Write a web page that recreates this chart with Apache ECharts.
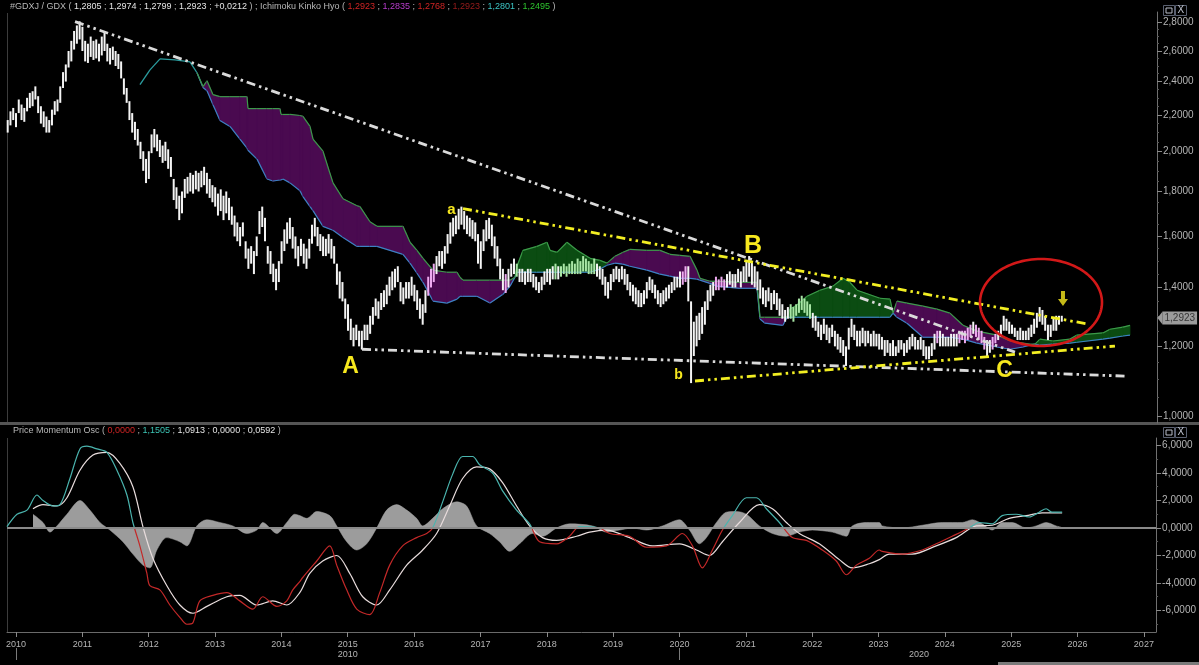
<!DOCTYPE html>
<html><head><meta charset="utf-8">
<script src="https://cdn.jsdelivr.net/npm/echarts@6/dist/echarts.min.js"></script>
<style>html,body{margin:0;padding:0;background:#000;}#c{width:1199px;height:665px;}</style>
</head><body><div id="c"></div>
<script>
// ---------------- DATA ----------------
const yearTicks = [2010,2011,2012,2013,2014,2015,2016,2017,2018,2019,2020,2021,2022,2023,2024,2025,2026,2027];
const decadeLabels = ['2010','2020'];
const decadeLabelAt = [2015.0, 2023.61];
const decadeStarts = [2010, 2020];
const priceTicks = [1.0,1.2,1.4,1.6,1.8,2.0,2.2,2.4,2.6,2.8];
const priceMinorTicks = [1.05,1.1,1.15,1.25,1.3,1.35,1.45,1.5,1.55,1.65,1.7,1.75,1.85,1.9,1.95,2.05,2.1,2.15,2.25,2.3,2.35,2.45,2.5,2.55,2.65,2.7,2.75];
const oscTicks = [-6,-4,-2,0,2,4,6];
const oscMinorTicks = [-7,-5,-3,-1,1,3,5];

// semi-monthly bars, first bar mid-Nov 2009
const barStart = 2009.875;
const barStep = 1/24;
const barHigh = [
 2.17,2.22,2.24,
 2.21,2.29,2.26,2.24,2.30,2.33,2.34,2.37,2.31,2.25,2.22,2.19,2.17,2.23,2.28,2.29,2.37,2.46,2.51,2.60,2.67,2.74,2.78,2.81,
 2.77,2.67,2.65,2.70,2.67,2.68,2.65,2.70,2.73,2.65,2.62,2.63,2.60,2.58,2.53,2.42,2.36,2.28,2.21,2.16,2.12,2.05,2.00,1.96,
 2.00,2.09,2.12,2.09,2.06,2.03,2.05,2.01,1.97,1.86,1.82,1.78,1.80,1.86,1.87,1.89,1.88,1.90,1.89,1.90,1.92,1.89,1.86,1.83,
 1.82,1.79,1.81,1.78,1.80,1.77,1.73,1.69,1.66,1.64,1.66,1.58,1.55,1.56,1.54,1.60,1.71,1.73,1.68,1.56,1.54,1.49,1.47,1.50,
 1.58,1.63,1.66,1.68,1.64,1.60,1.56,1.59,1.57,1.55,1.59,1.65,1.68,1.64,1.61,1.60,1.59,1.61,1.59,1.56,1.49,1.46,1.42,1.36,
 1.34,1.29,1.26,1.27,1.25,1.25,1.27,1.27,1.30,1.33,1.36,1.35,1.38,1.39,1.41,1.44,1.46,1.47,1.48,1.42,1.40,1.42,1.42,1.44,
 1.41,1.39,1.36,1.34,1.39,1.44,1.47,1.49,1.52,1.54,1.54,1.56,1.61,1.66,1.68,1.69,1.72,1.73,1.71,1.69,1.68,1.67,1.66,1.61,
 1.58,1.63,1.67,1.68,1.65,1.60,1.56,1.51,1.47,1.45,1.47,1.49,1.51,1.49,1.47,1.47,1.46,1.47,1.47,1.45,1.44,1.42,1.44,1.46,
 1.47,1.47,1.48,1.49,1.48,1.48,1.49,1.48,1.49,1.50,1.49,1.51,1.50,1.52,1.51,1.50,1.49,1.51,1.49,1.48,1.47,1.44,1.42,1.45,
 1.47,1.48,1.47,1.48,1.47,1.45,1.42,1.41,1.40,1.39,1.38,1.39,1.42,1.44,1.43,1.41,1.39,1.38,1.39,1.40,1.41,1.42,1.44,1.44,
 1.46,1.46,1.48,1.48,1.35,1.28,1.30,1.31,1.33,1.35,1.39,1.41,1.42,1.44,1.43,1.44,1.43,1.45,1.46,1.45,1.45,1.47,1.46,1.48,
 1.50,1.52,1.50,1.48,1.46,1.43,1.40,1.39,1.40,1.38,1.39,1.38,1.36,1.34,1.32,1.33,1.34,1.33,1.34,1.36,1.37,1.36,1.35,1.34,
 1.31,1.30,1.28,1.27,1.29,1.27,1.26,1.27,1.25,1.24,1.23,1.22,1.20,1.26,1.29,1.27,1.25,1.25,1.26,1.25,1.25,1.24,1.25,1.24,
 1.24,1.23,1.22,1.22,1.21,1.22,1.20,1.22,1.22,1.21,1.22,1.23,1.24,1.23,1.22,1.23,1.22,1.20,1.20,1.21,1.24,1.25,1.25,1.24,
 1.23,1.23,1.24,1.24,1.24,1.25,1.25,1.25,1.26,1.27,1.28,1.27,1.26,1.25,1.23,1.22,1.22,1.23,1.24,1.25,1.27,1.30,1.29,1.28,
 1.27,1.26,1.25,1.26,1.25,1.25,1.26,1.27,1.29,1.31,1.33,1.32,1.30,1.27,1.27,1.29,1.30,1.30,1.30
];
const barLow = [
 2.10,2.14,2.17,
 2.13,2.21,2.17,2.16,2.22,2.24,2.25,2.29,2.21,2.15,2.13,2.10,2.10,2.14,2.20,2.22,2.27,2.36,2.40,2.49,2.53,2.61,2.65,2.68,
 2.60,2.53,2.52,2.56,2.54,2.55,2.53,2.57,2.60,2.53,2.51,2.54,2.50,2.48,2.42,2.32,2.27,2.17,2.10,2.06,2.03,1.96,1.90,1.84,
 1.86,1.99,2.02,2.00,1.97,1.94,1.95,1.91,1.87,1.76,1.72,1.67,1.70,1.77,1.79,1.80,1.79,1.81,1.80,1.82,1.83,1.79,1.77,1.75,
 1.73,1.69,1.71,1.67,1.70,1.67,1.65,1.60,1.58,1.56,1.60,1.51,1.47,1.49,1.45,1.52,1.61,1.64,1.58,1.49,1.45,1.42,1.39,1.42,
 1.49,1.54,1.57,1.59,1.55,1.51,1.48,1.52,1.49,1.47,1.51,1.57,1.60,1.56,1.54,1.52,1.52,1.53,1.51,1.49,1.41,1.36,1.35,1.29,
 1.25,1.22,1.20,1.22,1.20,1.19,1.22,1.22,1.24,1.27,1.30,1.29,1.32,1.33,1.34,1.37,1.39,1.40,1.42,1.35,1.34,1.36,1.36,1.37,
 1.35,1.32,1.29,1.27,1.31,1.37,1.40,1.42,1.45,1.48,1.47,1.49,1.53,1.57,1.60,1.61,1.63,1.65,1.63,1.61,1.60,1.59,1.58,1.49,
 1.47,1.54,1.58,1.59,1.56,1.51,1.48,1.43,1.39,1.38,1.40,1.44,1.45,1.44,1.42,1.42,1.41,1.42,1.42,1.40,1.39,1.38,1.39,1.41,
 1.42,1.41,1.43,1.43,1.43,1.44,1.45,1.44,1.45,1.45,1.45,1.45,1.45,1.46,1.46,1.45,1.45,1.45,1.44,1.43,1.41,1.37,1.36,1.39,
 1.42,1.43,1.42,1.43,1.41,1.39,1.37,1.35,1.34,1.33,1.33,1.34,1.36,1.39,1.38,1.36,1.34,1.33,1.34,1.35,1.36,1.38,1.39,1.40,
 1.40,1.41,1.42,1.35,1.09,1.17,1.20,1.22,1.24,1.27,1.32,1.35,1.37,1.39,1.39,1.40,1.39,1.40,1.41,1.40,1.40,1.42,1.40,1.42,
 1.42,1.44,1.41,1.40,1.39,1.36,1.34,1.33,1.35,1.32,1.34,1.32,1.30,1.29,1.28,1.29,1.29,1.28,1.30,1.31,1.32,1.31,1.30,1.29,
 1.26,1.25,1.23,1.22,1.24,1.22,1.21,1.23,1.20,1.19,1.18,1.17,1.14,1.19,1.23,1.22,1.20,1.20,1.21,1.20,1.21,1.20,1.20,1.20,
 1.19,1.19,1.17,1.18,1.17,1.17,1.17,1.18,1.19,1.17,1.18,1.19,1.20,1.19,1.19,1.19,1.17,1.16,1.16,1.17,1.19,1.21,1.20,1.20,
 1.20,1.20,1.20,1.20,1.20,1.21,1.22,1.21,1.22,1.23,1.24,1.23,1.22,1.21,1.19,1.17,1.18,1.19,1.21,1.22,1.23,1.25,1.25,1.24,
 1.24,1.23,1.22,1.22,1.22,1.22,1.22,1.23,1.24,1.26,1.28,1.27,1.25,1.22,1.23,1.25,1.25,1.27,1.28
];
const lastClose = 1.2923;

// Ichimoku cloud: [time, senkouA, senkouB]
const cloud = [
 [2011.867,2.381,2.381],[2012.018,2.475,2.475],[2012.169,2.547,2.547],[2012.395,2.540,2.540],[2012.620,2.527,2.527],
 [2012.726,2.456,2.456],[2012.816,2.363,2.369],[2012.877,2.343,2.405],[2012.967,2.259,2.319],[2013.072,2.168,2.307],
 [2013.223,2.134,2.307],[2013.373,2.064,2.307],[2013.479,2.016,2.307],[2013.494,2.005,2.236],[2013.630,1.959,2.236],
 [2013.780,1.860,2.236],[2013.870,1.850,2.236],[2013.976,1.855,2.236],[2013.991,1.855,2.202],[2014.021,1.860,2.202],
 [2014.127,1.841,2.202],[2014.277,1.803,2.196],[2014.322,1.776,2.191],[2014.428,1.730,2.134],[2014.473,1.712,2.064],
 [2014.623,1.643,2.000],[2014.774,1.626,1.841],[2014.925,1.596,1.766],[2015.136,1.559,1.734],[2015.181,1.559,1.730],
 [2015.331,1.559,1.663],[2015.437,1.559,1.643],[2015.828,1.527,1.643],[2015.934,1.492,1.576],[2016.039,1.453,1.543],
 [2016.130,1.419,1.511],[2016.280,1.351,1.465],[2016.491,1.344,1.457],[2016.642,1.358,1.457],[2016.687,1.368,1.438],
 [2016.732,1.368,1.427],[2016.943,1.368,1.427],[2017.139,1.344,1.427],[2017.334,1.375,1.427],[2017.440,1.405,1.427],
 [2017.515,1.438,1.438],
 [2017.545,1.480,1.457],[2017.636,1.543,1.457],[2017.846,1.559,1.457],[2017.997,1.576,1.457],[2018.042,1.543,1.457],
 [2018.148,1.535,1.457],[2018.298,1.576,1.457],[2018.449,1.543,1.457],[2018.645,1.511,1.457],[2018.795,1.503,1.469],
 [2018.901,1.492,1.484],
 [2019.021,1.492,1.519],[2019.142,1.488,1.535],[2019.247,1.480,1.547],[2019.503,1.465,1.543],[2019.699,1.450,1.543],
 [2019.849,1.442,1.527],[2020.000,1.434,1.523],[2020.151,1.434,1.519],[2020.256,1.431,1.465],[2020.301,1.427,1.434],
 [2020.452,1.415,1.423],[2020.557,1.405,1.423],[2020.904,1.397,1.419],[2021.160,1.397,1.419],[2021.205,1.289,1.295],
 [2021.280,1.275,1.295],[2021.551,1.268,1.295],[2021.611,1.295,1.295],
 [2021.657,1.323,1.295],[2021.762,1.337,1.295],[2021.913,1.368,1.295],[2022.108,1.390,1.295],[2022.304,1.405,1.295],
 [2022.455,1.434,1.295],[2022.560,1.419,1.295],[2022.666,1.390,1.295],[2023.012,1.361,1.295],[2023.163,1.358,1.295],
 [2023.208,1.309,1.309],
 [2023.268,1.295,1.351],[2023.419,1.275,1.344],[2023.660,1.229,1.333],[2023.870,1.229,1.323],[2024.066,1.229,1.309],
 [2024.262,1.223,1.268],[2024.473,1.210,1.249],[2024.774,1.198,1.236],[2024.970,1.191,1.217],[2025.166,1.198,1.210],
 [2025.271,1.204,1.207],[2025.346,1.207,1.207],
 [2025.422,1.223,1.204],[2025.617,1.217,1.207],[2025.873,1.223,1.210],[2025.979,1.236,1.213],[2026.370,1.243,1.223],
 [2026.476,1.255,1.226],[2026.672,1.262,1.233],[2026.777,1.268,1.236]
];

// trend lines: [time, price]
const trendWhiteUpper = [[2010.889,2.808],[2025.045,1.182]];
const trendWhiteLower = [[2015.211,1.191],[2026.732,1.110]];
const trendYellowUpper = [[2016.732,1.721],[2026.145,1.272]];
const trendYellowLower = [[2020.226,1.096],[2026.551,1.201]];

// annotations: [label, time, price]
const noteLabels = [['A',2015.038,1.138],['a',2016.559,1.715],['B',2021.099,1.561],['b',2019.977,1.113],['C',2024.887,1.125]];
const arrowAt = [2025.768,1.360];
const circleAt = [2025.437,1.346];

// Price Momentum Oscillator
const momentum = [
 [2009.864,0.1],[2010.015,1.0],[2010.166,1.3],[2010.316,2.4],[2010.407,2.0],[2010.557,1.6],[2010.663,1.7],[2010.813,3.6],
 [2010.964,5.75],[2011.069,5.95],[2011.220,5.75],[2011.370,5.5],[2011.521,4.2],[2011.672,2.4],[2011.762,0.4],[2011.867,-1.3],
 [2011.973,-3.3],[2012.018,-4.2],[2012.169,-4.5],[2012.319,-5.6],[2012.470,-6.5],[2012.575,-7.0],[2012.666,-6.9],[2012.771,-5.3],
 [2012.967,-4.9],[2013.178,-4.7],[2013.373,-5.3],[2013.569,-5.9],[2013.720,-5.0],[2013.931,-5.7],[2014.081,-5.3],[2014.172,-4.5],
 [2014.277,-3.9],[2014.322,-3.6],[2014.533,-2.4],[2014.729,-1.3],[2014.834,-2.7],[2014.985,-4.5],[2015.136,-5.9],[2015.331,-6.3],
 [2015.482,-4.7],[2015.633,-2.7],[2015.828,-1.3],[2016.039,-0.7],[2016.190,-0.4],[2016.280,0.0],[2016.431,1.9],[2016.581,3.9],
 [2016.732,5.2],[2016.883,5.2],[2016.988,4.6],[2017.184,4.0],[2017.334,2.7],[2017.545,1.3],[2017.741,0.3],[2017.892,-1.0],
 [2018.148,-1.15],[2018.343,-0.6],[2018.494,0.1],[2018.795,0.0],[2018.946,-0.4],[2019.247,-0.6],[2019.503,-1.4],[2019.804,-1.3],
 [2020.045,-0.4],[2020.196,-1.3],[2020.346,-2.9],[2020.497,-1.6],[2020.648,-0.15],[2020.798,0.9],[2021.009,2.2],[2021.160,2.2],
 [2021.310,1.4],[2021.506,0.4],[2021.702,-0.7],[2021.913,-0.9],[2022.154,-1.6],[2022.364,-2.4],[2022.515,-3.4],[2022.666,-2.7],
 [2022.861,-2.2],[2023.012,-1.6],[2023.057,-1.7],[2023.358,-1.9],[2023.660,-1.6],[2023.870,-1.15],[2024.111,-0.6],[2024.367,0.0],
 [2024.518,0.4],[2024.714,0.3],[2024.864,0.9],[2025.075,1.0],[2025.271,0.8],[2025.422,1.15],[2025.527,1.4],[2025.617,1.15],
 [2025.768,1.15]
];
const signal = [
 [2010.256,1.4],[2010.407,1.7],[2010.617,1.6],[2010.768,2.2],[2010.964,4.2],[2011.160,5.3],[2011.370,5.5],[2011.566,4.7],
 [2011.762,3.0],[2011.913,0.1],[2012.063,-2.2],[2012.274,-4.2],[2012.470,-5.6],[2012.666,-6.2],[2012.877,-5.7],[2013.178,-5.0],
 [2013.373,-4.9],[2013.630,-5.6],[2013.870,-5.3],[2014.081,-5.6],[2014.277,-4.7],[2014.428,-3.3],[2014.623,-2.4],[2014.834,-2.0],
 [2015.030,-3.3],[2015.226,-5.0],[2015.437,-5.6],[2015.633,-4.5],[2015.889,-2.7],[2016.130,-1.6],[2016.340,-0.4],[2016.536,1.6],
 [2016.732,3.6],[2016.943,4.45],[2017.139,4.3],[2017.334,3.3],[2017.545,1.6],[2017.741,0.15],[2017.937,-0.7],[2018.148,-0.9],
 [2018.449,-0.6],[2018.645,-0.3],[2018.901,-0.15],[2019.247,-0.7],[2019.593,-1.3],[2020.000,-1.15],[2020.256,-1.6],[2020.452,-2.0],
 [2020.648,-1.0],[2020.904,0.4],[2021.205,1.7],[2021.401,1.4],[2021.611,0.4],[2021.807,-0.4],[2022.108,-1.15],[2022.410,-2.3],
 [2022.605,-2.9],[2022.861,-2.6],[2023.012,-2.3],[2023.163,-1.9],[2023.509,-1.9],[2023.870,-1.3],[2024.172,-0.7],[2024.473,0.15],
 [2024.714,0.2],[2024.970,0.7],[2025.226,0.9],[2025.467,1.1],[2025.768,1.09]
];
const histogram = [
 [2010.256,1.0],[2010.407,0.4],[2010.512,-0.3],[2010.617,0.15],[2010.768,1.0],[2010.964,2.0],[2011.114,1.3],[2011.265,0.4],
 [2011.416,-0.15],[2011.611,-1.0],[2011.762,-1.9],[2011.913,-2.7],[2012.018,-2.9],[2012.123,-1.6],[2012.274,-0.7],[2012.470,-1.0],
 [2012.575,-1.3],[2012.726,0.15],[2012.877,0.6],[2013.072,0.4],[2013.268,0.15],[2013.479,-0.4],[2013.630,-0.15],[2013.720,0.4],
 [2013.931,-0.4],[2014.081,0.4],[2014.202,1.0],[2014.277,0.9],[2014.383,0.7],[2014.533,1.2],[2014.729,0.9],[2014.834,0.15],
 [2014.985,-1.0],[2015.136,-1.6],[2015.286,-1.15],[2015.437,0.0],[2015.587,1.3],[2015.738,1.7],[2015.889,1.3],[2016.039,0.7],
 [2016.130,0.15],[2016.280,0.7],[2016.431,1.4],[2016.642,1.9],[2016.792,1.6],[2016.943,0.15],[2017.139,-0.4],[2017.289,-1.0],
 [2017.440,-1.7],[2017.590,-1.15],[2017.786,-0.4],[2017.937,-0.6],[2018.148,0.0],[2018.343,0.3],[2018.690,0.15],[2018.901,-0.3],
 [2019.096,-0.15],[2019.292,0.0],[2019.503,-0.15],[2019.744,0.15],[2020.000,0.6],[2020.151,-0.15],[2020.301,-1.15],[2020.407,-0.7],
 [2020.557,0.4],[2020.708,1.15],[2020.858,1.2],[2021.009,1.0],[2021.205,0.15],[2021.401,-0.4],[2021.611,-0.6],[2021.807,-0.3],
 [2022.003,-0.15],[2022.304,-0.3],[2022.515,-0.6],[2022.605,0.15],[2022.816,0.4],[2023.012,0.4],[2023.057,0.15],[2023.358,0.0],
 [2023.660,0.2],[2023.961,0.4],[2024.262,0.4],[2024.413,0.6],[2024.563,0.3],[2024.714,-0.15],[2024.864,0.4],[2025.015,0.4],
 [2025.226,0.0],[2025.377,0.15],[2025.527,0.4],[2025.678,0.15],[2025.753,0.06]
];

// ---------------- CHART ----------------
const X_MIN = 2009.8645, X_MAX = 2027.184;
const LN_MIN = -0.0183, LN_MAX = 1.0576;
const OSC_MIN = -7.564, OSC_MAX = 6.545;
const FONT = "'Liberation Sans', Arial, sans-serif";
const ln = Math.log;
const comma = s => s.replace('.', ',');
const TEAL = '#4ab4ae', RED = '#c32828', YELLOW = '#f7e81e';

function cloudAt(t) {
  const n = cloud.length;
  if (t < cloud[0][0] || t > cloud[n-1][0]) return null;
  for (let i = 0; i < n - 1; i++) {
    const c = cloud[i], d = cloud[i+1];
    if (t >= c[0] && t <= d[0]) {
      const f = (t - c[0]) / ((d[0] - c[0]) || 1);
      return [c[1] + (d[1]-c[1])*f, c[2] + (d[2]-c[2])*f];
    }
  }
  return null;
}
function barColor(t, hi, lo) {
  const s = cloudAt(t);
  const mid = (hi + lo) / 2;
  if (s) {
    const top = Math.max(s[0], s[1]), bot = Math.min(s[0], s[1]);
    if (mid <= top && mid >= bot && top - bot > 0.004) return s[0] > s[1] ? '#a9e6a6' : '#eeaaf0';
  }
  return '#f4f4f4';
}

const barData = barHigh.map((h, i) => [barStart + i*barStep, ln(h), ln(barLow[i]), h, barLow[i]]);
const cloudSeg = cloud.slice(0, -1).map((c, i) => {
  const d = cloud[i+1];
  return [c[0], ln(c[1]), ln(c[2]), d[0], ln(d[1]), ln(d[2])];
});
const toLn = arr => arr.map(p => [p[0], ln(p[1])]);

const trendStyle = (color) => ({ color, width: 2.8, type: [9, 4, 2.5, 4, 2.5, 4], cap: 'butt' });
const noteSize = { A: 23, a: 15, B: 25, b: 14, C: 23 };
const HS = { fontSize: 9, fontFamily: FONT, fontWeight: 'normal' };

const chart = echarts.init(document.getElementById('c'), null, { renderer: 'canvas' });
chart.setOption({
  backgroundColor: '#000',
  animation: false,
  textStyle: { fontFamily: FONT },
  title: [
    {
      left: 10, top: 2, padding: 0,
      text: '{k|#GDXJ / GDX ( }{w|1,2805}{k| ; }{w|1,2974}{k| ; }{w|1,2799}{k| ; }{w|1,2923}{k| ; }{w|+0,0212}{k| ) ; Ichimoku Kinko Hyo ( }{r|1,2923}{k| ; }{m|1,2835}{k| ; }{r|1,2768}{k| ; }{d|1,2923}{k| ; }{c|1,2801}{k| ; }{g|1,2495}{k| )}',
      textStyle: {
        fontWeight: 'normal', fontSize: 9,
        rich: {
          k: Object.assign({ color: '#b8b8b8' }, HS),
          w: Object.assign({ color: '#e4e4e4' }, HS),
          r: Object.assign({ color: '#d02424' }, HS),
          m: Object.assign({ color: '#b83ccc' }, HS),
          d: Object.assign({ color: '#9a1c1c' }, HS),
          c: Object.assign({ color: '#3cc4c4' }, HS),
          g: Object.assign({ color: '#2ec42e' }, HS)
        }
      }
    },
    {
      left: 13, top: 426, padding: 0,
      text: '{k|Price Momentum Osc ( }{r|0,0000}{k| ; }{c|1,1505}{k| ; }{w|1,0913}{k| ; }{w|0,0000}{k| ; }{w|0,0592}{k| )}',
      textStyle: {
        fontWeight: 'normal', fontSize: 9,
        rich: {
          k: Object.assign({ color: '#b8b8b8' }, HS),
          w: Object.assign({ color: '#e4e4e4' }, HS),
          r: Object.assign({ color: '#d02424' }, HS),
          c: Object.assign({ color: '#3cc4b4' }, HS)
        }
      }
    }
  ],
  grid: [
    { left: 7, right: 42, top: 12, height: 411 },
    { left: 7, right: 42, top: 438, height: 194 }
  ],
  xAxis: [
    { gridIndex: 0, type: 'value', min: X_MIN, max: X_MAX, show: false, splitLine: { show: false }, axisLine: { onZero: false } },
    {
      gridIndex: 1, type: 'value', min: X_MIN, max: X_MAX, position: 'bottom',
      splitLine: { show: false },
      axisLine: { show: true, onZero: false, lineStyle: { color: '#6a6a6a', width: 1 } },
      axisTick: { show: true, customValues: yearTicks, length: 5, lineStyle: { color: '#8a8a8a' } },
      axisLabel: { show: true, customValues: yearTicks, color: '#b4b4b4', fontSize: 9, fontFamily: FONT, margin: 8,
        formatter: v => String(Math.round(v)) }
    },
    {
      gridIndex: 1, type: 'value', min: X_MIN, max: X_MAX, position: 'bottom', offset: 16,
      splitLine: { show: false },
      axisLine: { show: false, onZero: false },
      axisTick: { show: true, customValues: decadeStarts, length: 12, lineStyle: { color: '#7a7a7a' } },
      axisLabel: { show: true, customValues: decadeLabelAt, color: '#b4b4b4', fontSize: 9, fontFamily: FONT, margin: 2,
        formatter: v => decadeLabels[v < 2020 ? 0 : 1] }
    }
  ],
  yAxis: [
    {
      gridIndex: 0, type: 'value', min: LN_MIN, max: LN_MAX, position: 'right',
      splitLine: { show: false },
      axisLine: { show: true, onZero: false, lineStyle: { color: '#707070' } },
      axisTick: { show: true, customValues: priceTicks.map(ln), length: 5, lineStyle: { color: '#8a8a8a' } },
      axisLabel: { show: true, customValues: priceTicks.map(ln), color: '#b4b4b4', fontSize: 10, margin: 6,
        formatter: v => comma(Math.exp(v).toFixed(4)) }
    },
    {
      gridIndex: 0, type: 'value', min: LN_MIN, max: LN_MAX, position: 'right',
      splitLine: { show: false }, axisLine: { show: false, onZero: false },
      axisTick: { show: true, customValues: priceMinorTicks.map(ln), length: 2, lineStyle: { color: '#5a5a5a' } },
      axisLabel: { show: false }
    },
    {
      gridIndex: 1, type: 'value', min: OSC_MIN, max: OSC_MAX, position: 'right',
      splitLine: { show: false },
      axisLine: { show: true, onZero: false, lineStyle: { color: '#707070' } },
      axisTick: { show: true, customValues: oscTicks, length: 5, lineStyle: { color: '#8a8a8a' } },
      axisLabel: { show: true, customValues: oscTicks, color: '#b4b4b4', fontSize: 10, margin: 6,
        formatter: v => comma(v.toFixed(4)) }
    },
    {
      gridIndex: 1, type: 'value', min: OSC_MIN, max: OSC_MAX, position: 'right',
      splitLine: { show: false }, axisLine: { show: false, onZero: false },
      axisTick: { show: true, customValues: oscMinorTicks, length: 2, lineStyle: { color: '#5a5a5a' } },
      axisLabel: { show: false }
    }
  ],
  series: [
    { // 0 cloud
      type: 'custom', xAxisIndex: 0, yAxisIndex: 0, z: 1, silent: true,
      data: cloudSeg, encode: { x: [0, 3], y: [1, 2, 4, 5] },
      renderItem: (params, api) => {
        const t1 = api.value(0), a1 = api.value(1), b1 = api.value(2), t2 = api.value(3), a2 = api.value(4), b2 = api.value(5);
        const pa1 = api.coord([t1, a1]), pb1 = api.coord([t1, b1]), pa2 = api.coord([t2, a2]), pb2 = api.coord([t2, b2]);
        const flat = Math.abs(a1 - b1) < 1e-6 && Math.abs(a2 - b2) < 1e-6;
        const children = [];
        if (flat) {
          children.push({ type: 'line', shape: { x1: pa1[0], y1: pa1[1], x2: pa2[0], y2: pa2[1] }, style: { stroke: '#2b9d9f', lineWidth: 1.3 } });
        } else {
          const green = (a1 + a2) > (b1 + b2);
          const fill = green ? '#0b4c12' : '#4a0a50';
          children.push({ type: 'polygon', shape: { points: [pa1, pa2, pb2, pb1] }, style: { fill, stroke: fill, lineWidth: 0.8 } });
          const top1 = a1 >= b1 ? pa1 : pb1, bot1 = a1 >= b1 ? pb1 : pa1;
          const top2 = a2 >= b2 ? pa2 : pb2, bot2 = a2 >= b2 ? pb2 : pa2;
          children.push({ type: 'polyline', shape: { points: [bot1, bot2] }, style: { stroke: '#3b82c2', lineWidth: 1.2, fill: 'none' } });
          children.push({ type: 'polyline', shape: { points: [top1, top2] }, style: { stroke: '#3c9a4a', lineWidth: 1.2, fill: 'none' } });
        }
        return { type: 'group', children };
      }
    },
    { // 1 price bars
      type: 'custom', xAxisIndex: 0, yAxisIndex: 0, z: 2, silent: true,
      data: barData, encode: { x: 0, y: [1, 2] },
      renderItem: (params, api) => {
        const t = api.value(0), h = api.value(1), l = api.value(2);
        const p1 = api.coord([t, h]), p2 = api.coord([t, l]);
        const col = barColor(t, api.value(3), api.value(4));
        return { type: 'rect', shape: { x: p1[0] - 1, y: p1[1], width: 2, height: Math.max(1, p2[1] - p1[1]) }, style: { fill: col } };
      }
    },
    { type: 'line', xAxisIndex: 0, yAxisIndex: 0, z: 3, silent: true, symbol: 'none', data: toLn(trendWhiteUpper), lineStyle: trendStyle('#dadada') },
    { type: 'line', xAxisIndex: 0, yAxisIndex: 0, z: 3, silent: true, symbol: 'none', data: toLn(trendWhiteLower), lineStyle: trendStyle('#dadada') },
    { type: 'line', xAxisIndex: 0, yAxisIndex: 0, z: 3, silent: true, symbol: 'none', data: toLn(trendYellowUpper), lineStyle: trendStyle('#f2ee22') },
    { type: 'line', xAxisIndex: 0, yAxisIndex: 0, z: 3, silent: true, symbol: 'none', data: toLn(trendYellowLower), lineStyle: trendStyle('#f2ee22') },
    { // 6 letters
      type: 'scatter', xAxisIndex: 0, yAxisIndex: 0, z: 5, silent: true, symbolSize: 1, itemStyle: { color: 'rgba(0,0,0,0)' },
      data: noteLabels.map(n => ({ value: [n[1], ln(n[2])], name: n[0],
        label: { show: true, position: 'inside', formatter: n[0], color: YELLOW, opacity: 1, textBorderWidth: 0, textBorderColor: 'transparent',
          fontWeight: 'bold', fontSize: noteSize[n[0]], fontFamily: FONT } }))
    },
    { // 7 ellipse
      type: 'custom', xAxisIndex: 0, yAxisIndex: 0, z: 5, silent: true,
      data: [[circleAt[0], ln(circleAt[1])]], encode: { x: 0, y: 1 },
      renderItem: (params, api) => {
        const c = api.coord([api.value(0), api.value(1)]);
        const pts = [];
        for (let k = 0; k <= 120; k++) { const a = k / 120 * Math.PI * 2; pts.push([c[0] + 61 * Math.cos(a), c[1] + 43.5 * Math.sin(a)]); }
        return { type: 'polyline', shape: { points: pts }, style: { stroke: '#d21818', lineWidth: 2.6, fill: 'none' } };
      }
    },
    { // 8 arrow
      type: 'scatter', xAxisIndex: 0, yAxisIndex: 0, z: 5, silent: true,
      symbol: 'path://M3,0 L7,0 L7,8 L10,8 L5,15 L0,8 L3,8 Z', symbolSize: [10, 15],
      itemStyle: { color: YELLOW }, data: [[arrowAt[0], ln(arrowAt[1])]]
    },
    { // 9 last price tag
      type: 'scatter', xAxisIndex: 0, yAxisIndex: 0, z: 6, silent: true, clip: false,
      symbol: 'path://M0,6 L6,0 L6,12 Z', symbolSize: [5, 13], symbolOffset: [3, 0],
      itemStyle: { color: '#c2c2c2' },
      data: [{ value: [X_MAX, ln(lastClose)],
        label: { show: true, position: 'right', offset: [-5, 0], formatter: comma(lastClose.toFixed(4)), color: '#1a1a1a',
          backgroundColor: '#c2c2c2', padding: [2, 2, 1, 2], fontSize: 10, fontFamily: FONT } }]
    },
    { // 10 histogram area
      type: 'line', xAxisIndex: 1, yAxisIndex: 2, z: 2, silent: true, symbol: 'none', smooth: 0.3,
      data: histogram, lineStyle: { width: 0.5, color: '#a4a4a4' }, areaStyle: { color: '#a4a4a4', opacity: 0.95, origin: 0 },
      markLine: { silent: true, symbol: 'none', label: { show: false }, lineStyle: { color: '#8a8a8a', width: 2, type: 'solid' }, data: [{ yAxis: 0 }] }
    },
    { // 11 signal
      type: 'line', xAxisIndex: 1, yAxisIndex: 2, z: 3, silent: true, symbol: 'none', smooth: 0.3,
      data: signal, lineStyle: { width: 1.2, color: '#e8dcdc' }
    },
    { // 12 momentum (colour split at zero set below)
      type: 'line', xAxisIndex: 1, yAxisIndex: 2, z: 4, silent: true, symbol: 'none', smooth: 0.3,
      data: momentum, lineStyle: { width: 1.2, color: TEAL }
    }
  ],
  graphic: [
    { type: 'rect', shape: { x: 0, y: 422, width: 1199, height: 3 }, style: { fill: '#555' }, silent: true },
    { type: 'line', shape: { x1: 7.5, y1: 13, x2: 7.5, y2: 422 }, style: { stroke: '#3c3c3c', lineWidth: 1 }, silent: true },
    { type: 'line', shape: { x1: 7.5, y1: 438, x2: 7.5, y2: 632 }, style: { stroke: '#3c3c3c', lineWidth: 1 }, silent: true },
    { type: 'rect', shape: { x: 1163.5, y: 5.5, width: 11, height: 10 }, style: { fill: 'none', stroke: '#5a6070', lineWidth: 1 }, silent: true },
    { type: 'rect', shape: { x: 1166, y: 8, width: 6, height: 5 }, style: { fill: 'none', stroke: '#b8bcc8', lineWidth: 1 }, silent: true },
    { type: 'rect', shape: { x: 1175.5, y: 5.5, width: 11, height: 10 }, style: { fill: 'none', stroke: '#5a6070', lineWidth: 1 }, silent: true },
    { type: 'text', x: 1177.5, y: 5, style: { text: 'X', fill: '#c0c4d0', font: '10px ' + FONT }, silent: true },
    { type: 'rect', shape: { x: 1163.5, y: 427.5, width: 11, height: 10 }, style: { fill: 'none', stroke: '#5a6070', lineWidth: 1 }, silent: true },
    { type: 'rect', shape: { x: 1166, y: 430, width: 6, height: 5 }, style: { fill: 'none', stroke: '#b8bcc8', lineWidth: 1 }, silent: true },
    { type: 'rect', shape: { x: 1175.5, y: 427.5, width: 11, height: 10 }, style: { fill: 'none', stroke: '#5a6070', lineWidth: 1 }, silent: true },
    { type: 'text', x: 1177.5, y: 427, style: { text: 'X', fill: '#c0c4d0', font: '10px ' + FONT }, silent: true },
    { type: 'rect', shape: { x: 998, y: 662, width: 201, height: 3 }, style: { fill: '#7a7a7a' }, silent: true }
  ]
});

// colour the momentum line teal above zero and red below, split at the axis zero
const yTop = chart.convertToPixel({ yAxisIndex: 2 }, OSC_MAX);
const yBot = chart.convertToPixel({ yAxisIndex: 2 }, OSC_MIN);
const yZero = chart.convertToPixel({ yAxisIndex: 2 }, 0);
const f = (yZero - yTop) / (yBot - yTop);
chart.setOption({
  series: [{}, {}, {}, {}, {}, {}, {}, {}, {}, {}, {}, {},
    { lineStyle: { color: new echarts.graphic.LinearGradient(0, yTop, 0, yBot, [
      { offset: 0, color: TEAL }, { offset: f, color: TEAL }, { offset: f, color: RED }, { offset: 1, color: RED }
    ], true) } }]
});
</script></body></html>
